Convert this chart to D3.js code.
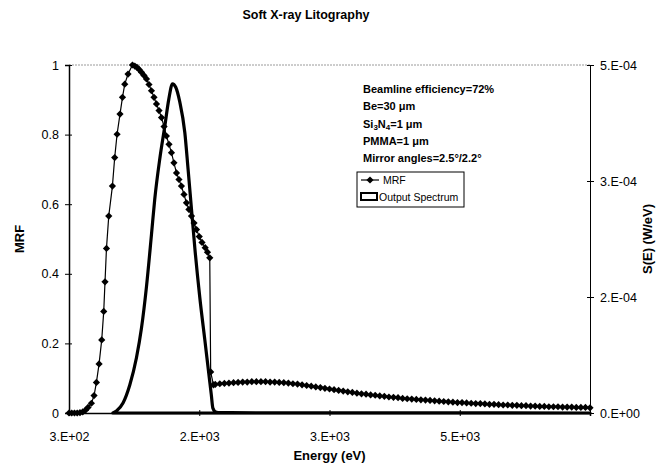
<!DOCTYPE html>
<html>
<head>
<meta charset="utf-8">
<script src="https://cdn.jsdelivr.net/npm/d3@7"></script>
<style>
  body { margin: 0; background: #fff; }
  text { font-family: Arial, "Liberation Sans", sans-serif; fill: #000; }
</style>
</head>
<body>
<div id="chart"></div>
<script>
// MRF (left axis): [energy eV, value]
const mrfPoints = [
  [300,0],[330,0],[360,0],[390,0],[420,0.001],[450,0.003],[480,0.008],[508,0.016],
  [545,0.028],[574,0.05],[600,0.088],[629,0.141],[658,0.21],[680,0.292],[694,0.377],
  [710,0.473],[735,0.566],[775,0.652],[800,0.734],[826,0.801],[858,0.859],[885,0.907],
  [910,0.945],[946,0.974],[994,1.0],[1020,0.997],[1044,0.993],[1068,0.987],[1093,0.979],
  [1120,0.97],[1148,0.96],[1175,0.944],[1202,0.926],[1230,0.907],[1257,0.888],[1285,0.869],
  [1312,0.849],[1340,0.823],[1366,0.796],[1394,0.772],[1421,0.748],[1448,0.719],[1476,0.69],
  [1503,0.671],[1530,0.652],[1558,0.628],[1585,0.604],[1612,0.585],[1640,0.566],[1668,0.546],
  [1695,0.527],[1725,0.507],[1755,0.49],[1790,0.475],[1815,0.462],[1840,0.446],[1850,0.118],
  [1880,0.081],[1900,0.082],[1950,0.084],[2000,0.085],[2050,0.086],[2100,0.087],[2150,0.088],
  [2200,0.089],[2250,0.089],[2300,0.09],[2350,0.09],[2400,0.09],[2450,0.09],[2500,0.089],
  [2550,0.089],[2600,0.088],[2650,0.087],[2700,0.086],[2750,0.084],[2800,0.083],[2850,0.081],
  [2900,0.079],[2950,0.077],[3000,0.075],[3050,0.073],[3100,0.071],[3150,0.069],[3200,0.067],
  [3250,0.065],[3300,0.063],[3350,0.061],[3400,0.059],[3450,0.057],[3500,0.055],[3550,0.054],
  [3600,0.052],[3650,0.051],[3700,0.049],[3750,0.048],[3800,0.046],[3850,0.045],[3900,0.044],
  [3950,0.042],[4000,0.041],[4050,0.04],[4100,0.039],[4150,0.038],[4200,0.037],[4250,0.036],
  [4300,0.035],[4350,0.034],[4400,0.033],[4450,0.032],[4500,0.031],[4550,0.03],[4600,0.03],
  [4650,0.029],[4700,0.028],[4750,0.027],[4800,0.027],[4850,0.026],[4900,0.025],[4950,0.025],
  [5000,0.024],[5050,0.023],[5100,0.023],[5150,0.022],[5200,0.022],[5250,0.021],[5300,0.021],
  [5350,0.02],[5400,0.02],[5450,0.019],[5500,0.019],[5550,0.018],[5600,0.018],[5650,0.018],
  [5700,0.017],[5750,0.017],[5800,0.017],[5850,0.016],[5900,0.016],[5950,0.016],[6000,0.015]
];

// Output spectrum (right axis, W/eV): [energy eV, value]
const spectrumPoints = [
  [780,0],[819,0.0000029],[891,0.0000144],[965,0.0000403],[1038,0.0000793],[1093,0.000122],
  [1148,0.000182],[1202,0.000256],[1238,0.000307],[1293,0.000365],[1348,0.000412],[1392,0.000451],
  [1432,0.000473],[1468,0.000468],[1512,0.000447],[1567,0.000403],[1603,0.00035],[1640,0.000293],
  [1676,0.000238],[1731,0.000166],[1786,0.000105],[1830,0.000056],[1857,0.000026],[1874,0.000007],
  [1906,0.0000014],[1950,0.0000005],[2500,0.0000003],[6000,0]
];

const xTicks = [300, 1725, 3150, 4575];
const xTickLabels = ["3.E+02", "2.E+03", "3.E+03", "5.E+03"];
const leftTicks = [0, 0.2, 0.4, 0.6, 0.8, 1];
const leftTickLabels = ["0", "0.2", "0.4", "0.6", "0.8", "1"];
const rightTicks = [0, 0.0005 / 3, 0.001 / 3, 0.0005];
const rightTickLabels = ["0.E+00", "2.E-04", "3.E-04", "5.E-04"];

const noteLines = [
  "Beamline efficiency=72%",
  "Be=30 μm",
  "Si3N4=1 μm",
  "PMMA=1 μm",
  "Mirror angles=2.5°/2.2°"
];

class LithoChart {
  constructor(parent) {
    this.parent = parent;
    this.initVis();
  }

  initVis() {
    let vis = this;
    vis.width = 664;
    vis.height = 469;
    vis.plot = { left: 69, right: 590, top: 65, bottom: 413 };

    vis.svg = d3.select(vis.parent).append('svg')
      .attr('width', vis.width)
      .attr('height', vis.height);

    vis.x = d3.scaleLinear().domain([300, 6000]).range([vis.plot.left, vis.plot.right]);
    vis.yL = d3.scaleLinear().domain([0, 1]).range([vis.plot.bottom, vis.plot.top]);
    vis.yR = d3.scaleLinear().domain([0, 0.0005]).range([vis.plot.bottom, vis.plot.top]);

    vis.renderVis();
  }

  renderVis() {
    let vis = this;
    const svg = vis.svg;
    const p = vis.plot;

    // top border (dotted grey)
    svg.append('line')
      .attr('x1', p.left).attr('x2', p.right)
      .attr('y1', p.top).attr('y2', p.top)
      .attr('stroke', '#9a9a9a').attr('stroke-width', 1)
      .attr('stroke-dasharray', '2,1');

    // output spectrum as white area with heavy outline
    const area = d3.area()
      .x(d => vis.x(d[0]))
      .y0(vis.yR(0))
      .y1(d => vis.yR(d[1]))
      .curve(d3.curveMonotoneX);

    svg.append('path')
      .datum(spectrumPoints)
      .attr('d', area)
      .attr('fill', '#fff')
      .attr('stroke', '#000')
      .attr('stroke-width', 3.2)
      .attr('stroke-linejoin', 'round');

    // axes
    const xAxis = d3.axisBottom(vis.x).tickValues(xTicks)
      .tickFormat((d, i) => xTickLabels[i]).tickSize(3).tickPadding(16);
    const gx = svg.append('g').attr('transform', `translate(0,${p.bottom})`).call(xAxis);
    gx.selectAll('.tick line').attr('y1', -3).attr('y2', 3);

    const lAxis = d3.axisLeft(vis.yL).tickValues(leftTicks)
      .tickFormat((d, i) => leftTickLabels[i]).tickSize(4).tickPadding(6);
    const gl = svg.append('g').attr('transform', `translate(${p.left},0)`).call(lAxis);
    gl.selectAll('.tick line').attr('x1', 3);

    const rAxis = d3.axisRight(vis.yR).tickValues(rightTicks)
      .tickFormat((d, i) => rightTickLabels[i]).tickSize(4).tickPadding(6);
    const gr = svg.append('g').attr('transform', `translate(${p.right},0)`).call(rAxis);
    gr.selectAll('.tick line').attr('x1', -3);

    [gx, gl, gr].forEach(g => {
      g.select('.domain').attr('stroke', '#000');
      g.selectAll('text').style('font-size', '12.5px');
    });
    gx.select('.domain').attr('stroke-width', 1.5);
    gl.select('.domain').attr('stroke-width', 1.5);

    // MRF line with diamonds
    const line = d3.line().x(d => vis.x(d[0])).y(d => vis.yL(d[1]));
    svg.append('path')
      .datum(mrfPoints)
      .attr('d', line)
      .attr('fill', 'none')
      .attr('stroke', '#000')
      .attr('stroke-width', 1.2);

    const diamond = d3.symbol().type(d3.symbolSquare).size(26);
    svg.append('g').selectAll('path')
      .data(mrfPoints)
      .join('path')
      .attr('d', diamond)
      .attr('transform', d => `translate(${vis.x(d[0])},${vis.yL(d[1])}) rotate(45)`)
      .attr('fill', '#000');

    // titles
    svg.append('text')
      .attr('x', 306).attr('y', 19)
      .attr('text-anchor', 'middle')
      .style('font-size', '12.5px').style('font-weight', 'bold')
      .text('Soft X-ray Litography');

    svg.append('text')
      .attr('x', (p.left + p.right) / 2).attr('y', 460)
      .attr('text-anchor', 'middle')
      .style('font-size', '13px').style('font-weight', 'bold')
      .text('Energy (eV)');

    svg.append('text')
      .attr('transform', `translate(24,${(p.top + p.bottom) / 2}) rotate(-90)`)
      .attr('text-anchor', 'middle')
      .style('font-size', '13px').style('font-weight', 'bold')
      .text('MRF');

    svg.append('text')
      .attr('transform', `translate(652,${(p.top + p.bottom) / 2}) rotate(-90)`)
      .attr('text-anchor', 'middle')
      .style('font-size', '13px').style('font-weight', 'bold')
      .text('S(E) (W/eV)');

    // annotation block
    const note = svg.append('g').style('font-size', '11px').style('font-weight', 'bold');
    noteLines.forEach((t, i) => {
      const txt = note.append('text').attr('x', 363).attr('y', 93 + i * 17.3);
      if (t.startsWith('Si3N4')) {
        txt.append('tspan').text('Si');
        txt.append('tspan').attr('dy', 2).style('font-size', '8px').text('3');
        txt.append('tspan').attr('dy', -2).text('N');
        txt.append('tspan').attr('dy', 2).style('font-size', '8px').text('4');
        txt.append('tspan').attr('dy', -2).text('=1 μm');
      } else {
        txt.text(t);
      }
    });

    // legend
    const lg = svg.append('g');
    lg.append('rect')
      .attr('x', 357).attr('y', 172).attr('width', 107).attr('height', 35)
      .attr('fill', '#fff').attr('stroke', '#000').attr('stroke-width', 1);
    lg.append('line')
      .attr('x1', 361).attr('x2', 379).attr('y1', 180).attr('y2', 180)
      .attr('stroke', '#000').attr('stroke-width', 1.2);
    lg.append('path')
      .attr('d', diamond)
      .attr('transform', 'translate(370,180) rotate(45)')
      .attr('fill', '#000');
    lg.append('text').attr('x', 383).attr('y', 184)
      .style('font-size', '10.5px').text('MRF');
    lg.append('rect')
      .attr('x', 361).attr('y', 193).attr('width', 16).attr('height', 7)
      .attr('fill', '#fff').attr('stroke', '#000').attr('stroke-width', 2);
    lg.append('text').attr('x', 379).attr('y', 201)
      .style('font-size', '10.5px').text('Output Spectrum');
  }
}

new LithoChart('#chart');
</script>
</body>
</html>
